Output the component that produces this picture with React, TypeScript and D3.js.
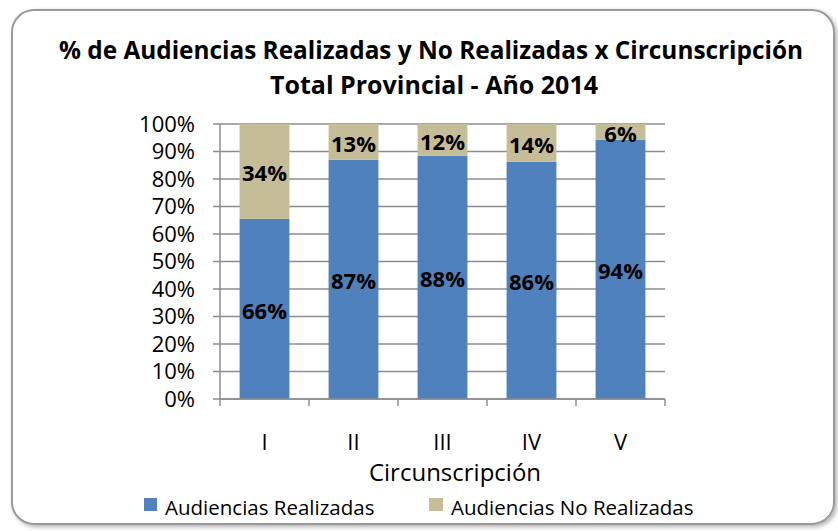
import React from 'react'
import * as d3 from 'd3'

const categories = ['I', 'II', 'III', 'IV', 'V']
const realizadas = [65.5, 87, 88.4, 86.3, 94.3]
const noRealizadas = [34.5, 13, 11.6, 13.7, 5.7]
const labelsRealizadas = ['66%', '87%', '88%', '86%', '94%']
const labelsNoRealizadas = ['34%', '13%', '12%', '14%', '6%']
const yTicks = [0, 10, 20, 30, 40, 50, 60, 70, 80, 90, 100]
const seriesNames = ['Audiencias Realizadas', 'Audiencias No Realizadas']
const colors = ['#4F81BD', '#C4BD97']

export default function App() {
  const width = 838
  const height = 531
  // plot area
  const left = 220
  const right = 665
  const top = 124
  const bottom = 399
  const font = "'Open Sans', 'Noto Sans', sans-serif"

  const x = d3.scaleBand().domain(categories).range([left, right]).paddingInner(0.44).paddingOuter(0.22)
  const band = d3.scaleBand().domain(categories).range([left, right])
  const y = d3.scaleLinear().domain([0, 100]).range([bottom, top])

  const stackData = categories.map((c, i) => ({ cat: c, r: realizadas[i], n: noRealizadas[i] }))
  const stacked = d3.stack<any>().keys(['r', 'n'])(stackData)
  const labels = [labelsRealizadas, labelsNoRealizadas]

  return (
    <svg width={width} height={height} style={{ position: 'absolute', left: 0, top: 0, background: '#fff' }} fontFamily={font}>
      <defs>
        <filter id="shadow" x="-5%" y="-5%" width="110%" height="110%">
          <feDropShadow dx="2" dy="2" stdDeviation="2" floodColor="#000" floodOpacity="0.3" />
        </filter>
      </defs>
      <rect x={12} y={10} width={822} height={514} rx={22} ry={22} fill="#fff" stroke="#9a9a9a" strokeWidth={2} filter="url(#shadow)" />

      <text x={431} y={59} textAnchor="middle" fontSize={25} fontWeight="bold" fill="#000" textLength={744} lengthAdjust="spacingAndGlyphs">
        % de Audiencias  Realizadas y No Realizadas x Circunscripción
      </text>
      <text x={434} y={94} textAnchor="middle" fontSize={25} fontWeight="bold" fill="#000" textLength={328} lengthAdjust="spacingAndGlyphs">
        Total Provincial  - Año 2014
      </text>

      {/* gridlines */}
      {yTicks.map(t => (
        <line key={'g' + t} x1={left - 7} x2={right} y1={y(t)} y2={y(t)} stroke="#8c8c8c" strokeWidth={1.5} />
      ))}
      {yTicks.map(t => (
        <text key={'t' + t} x={195} y={y(t)} dy="0.36em" textAnchor="end" fontSize={22} fill="#000">{t}%</text>
      ))}
      <line x1={left} x2={left} y1={top} y2={bottom} stroke="#8c8c8c" strokeWidth={1.5} />

      {/* bars */}
      {stacked.map((s, si) => (
        <g key={'s' + si} fill={colors[si]}>
          {s.map((d, i) => (
            <rect key={i} x={x(categories[i])} width={x.bandwidth()} y={y(d[1])} height={y(d[0]) - y(d[1])} />
          ))}
        </g>
      ))}
      {stacked.map((s, si) => (
        <g key={'l' + si}>
          {s.map((d, i) => (
            <text key={i} x={(x(categories[i]) as number) + x.bandwidth() / 2} y={(y(d[0]) + y(d[1])) / 2 + 2} dy="0.36em" textAnchor="middle" fontSize={22} fontWeight="bold" fill="#000">
              {labels[si][i]}
            </text>
          ))}
        </g>
      ))}

      {/* x axis */}
      <line x1={left} x2={right} y1={bottom} y2={bottom} stroke="#8c8c8c" strokeWidth={1.5} />
      {categories.concat(['end']).map((c, i) => (
        <line key={'xt' + i} x1={left + i * band.bandwidth()} x2={left + i * band.bandwidth()} y1={bottom} y2={bottom + 7} stroke="#8c8c8c" strokeWidth={1.5} />
      ))}
      {categories.map(c => (
        <text key={'xl' + c} x={(band(c) as number) + band.bandwidth() / 2} y={450} textAnchor="middle" fontSize={22} fill="#000">{c}</text>
      ))}
      <text x={455} y={481} textAnchor="middle" fontSize={24} fill="#000">Circunscripción</text>

      {/* legend */}
      <rect x={144} y={498} width={13} height={13} fill={colors[0]} />
      <text x={165} y={515} fontSize={20.5} fill="#000">{seriesNames[0]}</text>
      <rect x={429} y={498} width={14} height={13} fill={colors[1]} />
      <text x={451} y={515} fontSize={20.5} fill="#000">{seriesNames[1]}</text>
    </svg>
  )
}
